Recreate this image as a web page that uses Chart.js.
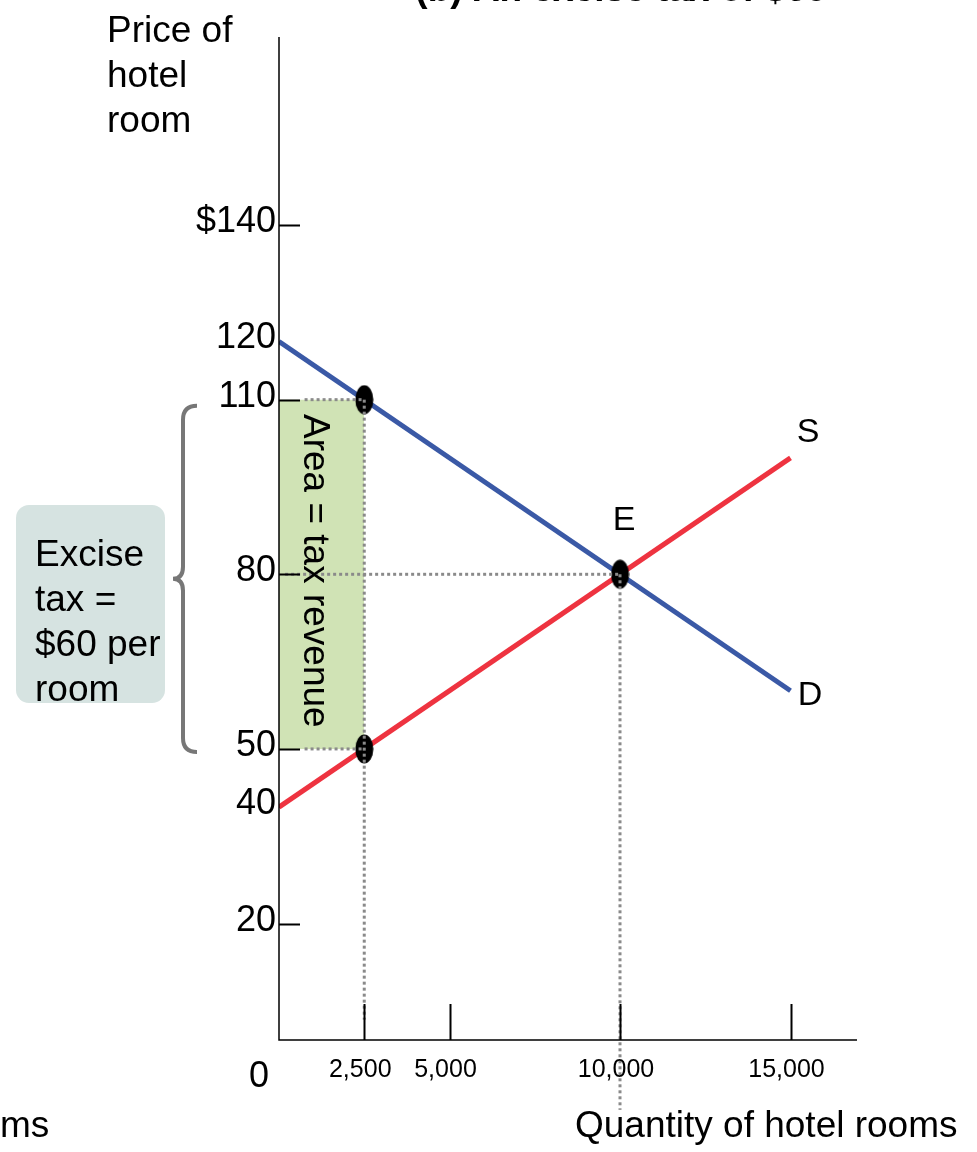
<!DOCTYPE html>
<html>
<head>
<meta charset="utf-8">
<script src="https://cdn.jsdelivr.net/npm/chart.js@4/dist/chart.umd.min.js"></script>
<style>
	html, body { margin: 0; padding: 0; background: #fff; }
	#wrap { width: 977px; height: 1152px; position: relative; }
</style>
</head>
<body>
<div id="wrap"><canvas id="plot"></canvas></div>
<script>
// values
const qTicks = [2500, 5000, 10000, 15000];
const qTickLabels = ['2,500', '5,000', '10,000', '15,000'];
const pTicks = [140, 120, 110, 80, 50, 40, 20];
const pTickLabels = ['$140', '120', '110', '80', '50', '40', '20'];
const pTickMarks = [140, 110, 80, 50, 20];

const demandQ = [0, 15000];
const demandP = [120, 60];
const supplyQ = [0, 15000];
const supplyP = [40, 100];

const markedQ = [2500, 10000, 2500];
const markedP = [110, 80, 50];

const taxQ = [0, 2500];
const taxHigh = 110;
const taxLow = 50;

// dotted guide segments [q1, p1, q2, p2]
const guides = [
	[750, 110, 2500, 110],
	[2500, 110, 2500, 3.5],
	[750, 50, 2500, 50],
	[180, 80, 10000, 80],
	[10000, 80, 10000, -12]
];

const FONT = '"Liberation Sans", Arial, sans-serif';

function pts(xs, ys) {
	return xs.map((x, i) => ({ x: x, y: ys[i] }));
}

// black ellipse marker
const dot = document.createElement('canvas');
dot.width = 19;
dot.height = 30;
(function () {
	const c = dot.getContext('2d');
	c.fillStyle = '#000';
	c.beginPath();
	c.ellipse(9.5, 15, 9, 14.5, 0, 0, Math.PI * 2);
	c.fill();
})();

const guideSets = guides.map(g => ({
	data: [{ x: g[0], y: g[1] }, { x: g[2], y: g[3] }],
	showLine: true,
	borderColor: '#8a8a8a',
	borderWidth: 3,
	borderDash: [3, 3],
	pointRadius: 0,
	clip: false,
	order: 1
}));

const decorations = {
	id: 'decorations',
	afterDatasetsDraw(chart) {
		const ctx = chart.ctx;
		const xs = chart.scales.x;
		const ys = chart.scales.y;
		const x0 = xs.getPixelForValue(0);
		const y0 = ys.getPixelForValue(0);
		ctx.save();

		// axes
		ctx.strokeStyle = '#000';
		ctx.lineWidth = 1.5;
		ctx.beginPath();
		ctx.moveTo(x0, chart.chartArea.top);
		ctx.lineTo(x0, y0);
		ctx.lineTo(chart.chartArea.right, y0);
		ctx.stroke();

		// tick marks
		ctx.lineWidth = 2;
		ctx.beginPath();
		pTickMarks.forEach(p => {
			const y = Math.round(ys.getPixelForValue(p)) + 0.5;
			ctx.moveTo(x0, y);
			ctx.lineTo(x0 + 21, y);
		});
		qTicks.forEach(q => {
			const x = Math.round(xs.getPixelForValue(q)) + 0.5;
			ctx.moveTo(x, y0);
			ctx.lineTo(x, y0 - 36);
		});
		ctx.stroke();

		// tick labels
		ctx.fillStyle = '#000';
		ctx.font = '36px ' + FONT;
		ctx.textAlign = 'right';
		ctx.textBaseline = 'alphabetic';
		pTicks.forEach((p, i) => {
			ctx.fillText(pTickLabels[i], 276, ys.getPixelForValue(p) + 7);
		});
		ctx.font = '25px ' + FONT;
		ctx.textAlign = 'center';
		qTicks.forEach((q, i) => {
			ctx.fillText(qTickLabels[i], xs.getPixelForValue(q) - 4, y0 + 37);
		});
		ctx.font = '36px ' + FONT;
		ctx.fillText('0', 259, y0 + 47);

		// axis titles
		ctx.textAlign = 'left';
		ctx.font = '37px ' + FONT;
		['Price of', 'hotel', 'room'].forEach((t, i) => ctx.fillText(t, 107, 42 + i * 45));
		ctx.fillText('Quantity of hotel rooms', 575, 1137);
		ctx.fillText('ms', 0, 1137);

		// cut-off panel title
		ctx.textAlign = 'center';
		ctx.font = 'bold 37px ' + FONT;
		ctx.fillText('(b) An excise tax of $60', 621, 1);

		// curve labels
		ctx.font = '34px ' + FONT;
		ctx.fillText('S', 808, 442);
		ctx.fillText('E', 624, 530);
		ctx.fillText('D', 810, 705);

		// rotated label in the tax area
		ctx.save();
		ctx.translate(314, 414);
		ctx.rotate(Math.PI / 2);
		ctx.textAlign = 'left';
		ctx.textBaseline = 'middle';
		ctx.font = '37px ' + FONT;
		ctx.fillText('Area = tax revenue', 0, 0);
		ctx.restore();

		// excise tax box
		ctx.fillStyle = '#d6e3e1';
		ctx.beginPath();
		ctx.roundRect(16, 505, 149, 198, 13);
		ctx.fill();
		ctx.fillStyle = '#000';
		ctx.textAlign = 'left';
		ctx.font = '37px ' + FONT;
		['Excise', 'tax =', '$60 per', 'room'].forEach((t, i) => ctx.fillText(t, 35, 566 + i * 45));

		// brace
		const yt = ys.getPixelForValue(taxHigh) + 6;
		const yb = ys.getPixelForValue(taxLow) + 3;
		const ym = (yt + yb) / 2;
		ctx.strokeStyle = '#777';
		ctx.lineWidth = 4;
		ctx.beginPath();
		ctx.moveTo(197, yt);
		ctx.quadraticCurveTo(183, yt, 183, yt + 14);
		ctx.lineTo(183, ym - 12);
		ctx.quadraticCurveTo(183, ym, 173, ym);
		ctx.quadraticCurveTo(183, ym, 183, ym + 12);
		ctx.lineTo(183, yb - 14);
		ctx.quadraticCurveTo(183, yb, 197, yb);
		ctx.stroke();

		ctx.restore();
	}
};

new Chart(document.getElementById('plot').getContext('2d'), {
	type: 'scatter',
	data: {
		datasets: [
			...guideSets,
			{
				data: pts(markedQ, markedP),
				pointStyle: dot,
				pointRadius: 15,
				order: 2
			},
			{
				data: pts(demandQ, demandP),
				showLine: true,
				borderColor: '#3a59a6',
				borderWidth: 5,
				pointRadius: 0,
				order: 3
			},
			{
				data: pts(supplyQ, supplyP),
				showLine: true,
				borderColor: '#ee3340',
				borderWidth: 5,
				pointRadius: 0,
				order: 3
			},
			{
				data: pts(taxQ, [taxHigh, taxHigh]),
				showLine: true,
				fill: { value: taxLow },
				backgroundColor: '#d0e3b5',
				borderWidth: 0,
				pointRadius: 0,
				order: 5
			}
		]
	},
	options: {
		responsive: true,
		maintainAspectRatio: false,
		animation: false,
		events: [],
		layout: {
			padding: { left: 279, right: 120, top: 37, bottom: 112 }
		},
		plugins: {
			legend: { display: false },
			tooltip: { enabled: false }
		},
		scales: {
			x: { type: 'linear', display: false, min: 0, max: 16950 },
			y: { type: 'linear', display: false, min: 0, max: 172.3 }
		}
	},
	plugins: [decorations]
});
</script>
</body>
</html>
